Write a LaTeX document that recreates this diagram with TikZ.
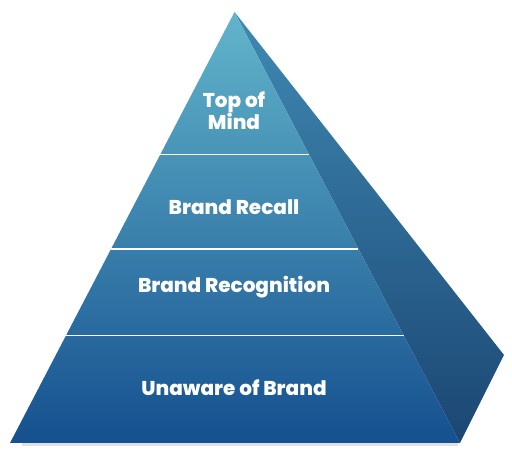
\documentclass[tikz,border=0pt]{standalone}
\usepackage{fontspec}
\setmainfont{Poppins}
\newfontfamily\heavyfont{Poppins ExtraBold}
\usetikzlibrary{calc}
\definecolor{facetop}{HTML}{62B5CB}
\definecolor{facebot}{HTML}{15508F}
\definecolor{sidetop}{HTML}{3F89B3}
\definecolor{sidebot}{HTML}{1B4673}
\tikzset{
    level label/.style={
        text=white, font=\heavyfont\fontsize{15}{16.5}\selectfont,
        align=center, inner sep=0pt
    }
}

\begin{document}
\begin{tikzpicture}[
        x=0.75pt, y=-0.75pt,
        line join=round,
        divider/.style={draw=white, line width=1.2pt}]
        \useasboundingbox (0,0) rectangle (512,452);
        \coordinate (apex) at (234.5,12);
        \coordinate (left) at (10,443);
        \coordinate (front) at (460,443);
        \coordinate (back) at (504,355);
        % soft shadow under the base
        \fill[black!12] (22,443) rectangle (458,446.5);
        % side and front faces
        \shade[top color=sidetop, bottom color=sidebot] (apex) -- (back) -- (front) -- cycle;
        \shade[top color=facetop, bottom color=facebot] (apex) -- (front) -- (left) -- cycle;
        % dividers between the levels
        \foreach \y in {154.5,249,335.5}
            \draw[divider] ($(apex)!{(\y-12)/431}!(left)$) -- ($(apex)!{(\y-12)/431}!(front)$);
        \node[level label] (top) at (234,111) {Top of\\Mind};
        \node[level label] (recall) at (234,207) {Brand Recall};
        \node[level label] (recog) at (234,287) {Brand Recognition};
        \node[level label] (unaware) at (234,388) {Unaware of Brand};
\end{tikzpicture}
\end{document}
